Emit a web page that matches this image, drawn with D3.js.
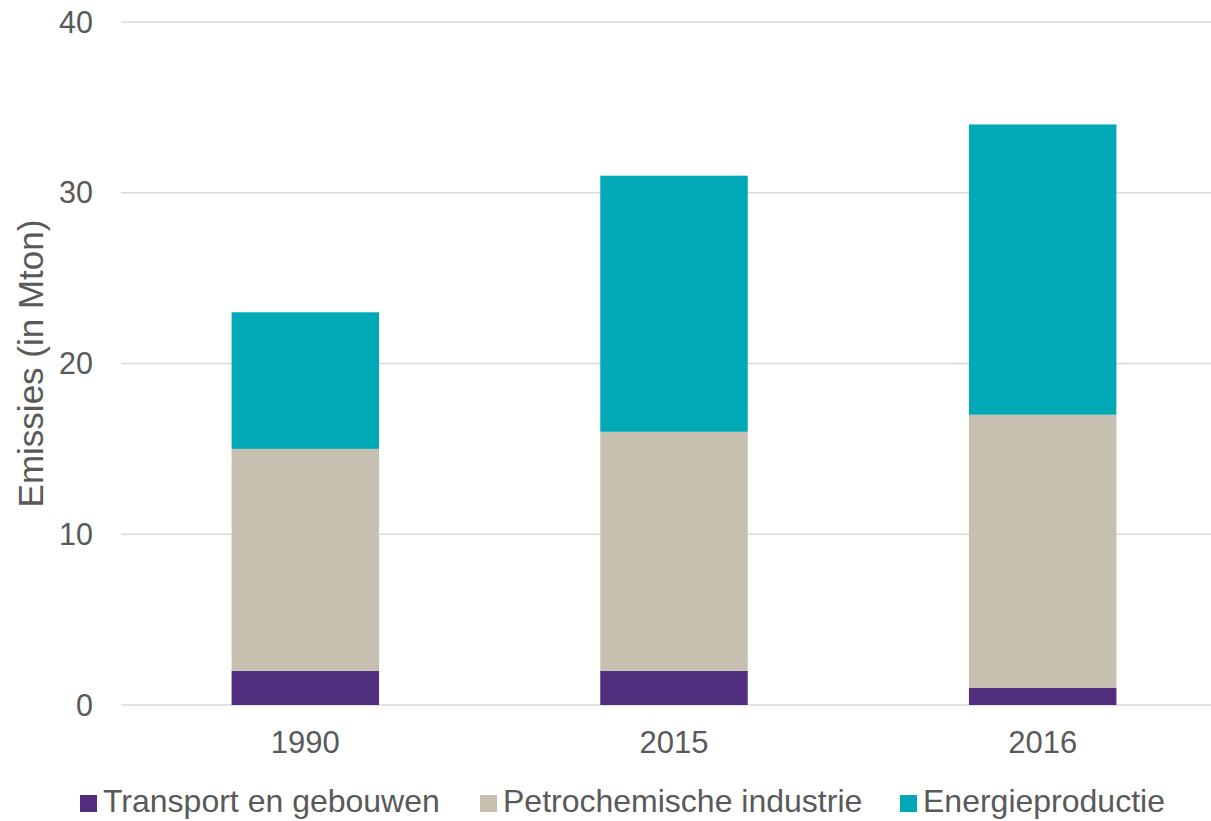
<!DOCTYPE html>
<html>
<head>
<meta charset="utf-8">
<script src="https://cdn.jsdelivr.net/npm/d3@7"></script>
<style>
  body { margin: 0; background: #fff; }
  svg { display: block; font-family: "Liberation Sans", Arial, sans-serif; }
</style>
</head>
<body>
<div id="chart"></div>
<script>
const width = 1211;
const height = 821;

const years = ["1990", "2015", "2016"];
const seriesNames = ["Transport en gebouwen", "Petrochemische industrie", "Energieproductie"];
const transport = [2, 2, 1];
const petrochemie = [13, 14, 16];
const energie = [8, 15, 17];
const yTicks = [0, 10, 20, 30, 40];
const colors = ["#512F7E", "#C7BFB0", "#00A9B5"];

const rows = years.map((year, i) => ({
  year,
  [seriesNames[0]]: transport[i],
  [seriesNames[1]]: petrochemie[i],
  [seriesNames[2]]: energie[i],
}));

const stacked = d3.stack().keys(seriesNames)(rows);

const x = d3
  .scaleBand()
  .domain(years)
  .range([121, 1227])
  .paddingInner(0.6)
  .paddingOuter(0.3);

const y = d3.scaleLinear().domain([0, 40]).range([705, 22]);

const color = d3.scaleOrdinal().domain(seriesNames).range(colors);

const svg = d3
  .select("#chart")
  .append("svg")
  .attr("width", width)
  .attr("height", height);

// gridlines
svg
  .append("g")
  .selectAll("line")
  .data(yTicks)
  .join("line")
  .attr("x1", 121)
  .attr("x2", width)
  .attr("y1", (d) => y(d))
  .attr("y2", (d) => y(d))
  .attr("stroke", "#d9d9d9")
  .attr("stroke-width", 1.5);

// y tick labels
svg
  .append("g")
  .selectAll("text")
  .data(yTicks)
  .join("text")
  .attr("x", 93)
  .attr("y", (d) => y(d))
  .attr("dy", "0.35em")
  .attr("text-anchor", "end")
  .attr("font-size", "30.5px")
  .attr("fill", "#595959")
  .text((d) => d);

// bars
svg
  .append("g")
  .selectAll("g")
  .data(stacked)
  .join("g")
  .attr("fill", (d) => color(d.key))
  .selectAll("rect")
  .data((d) => d)
  .join("rect")
  .attr("x", (d) => x(d.data.year))
  .attr("width", x.bandwidth())
  .attr("y", (d) => y(d[1]))
  .attr("height", (d) => y(d[0]) - y(d[1]));

// x axis
const xAxis = svg
  .append("g")
  .attr("transform", "translate(0,705)")
  .call(d3.axisBottom(x).tickSize(0).tickPadding(0));
xAxis.select(".domain").remove();
xAxis
  .selectAll("text")
  .attr("y", 48)
  .attr("dy", 0)
  .attr("font-size", "31px")
  .attr("font-family", "Liberation Sans, Arial, sans-serif")
  .attr("fill", "#595959");

// y axis title
svg
  .append("text")
  .attr("transform", `translate(43,${(y(0) + y(40)) / 2}) rotate(-90)`)
  .attr("text-anchor", "middle")
  .attr("font-size", "35px")
  .attr("fill", "#595959")
  .text("Emissies (in Mton)");

// legend
const legendX = [80, 480, 900];
const legend = svg
  .append("g")
  .selectAll("g")
  .data(seriesNames)
  .join("g")
  .attr("transform", (d, i) => `translate(${legendX[i]},812)`);

legend
  .append("rect")
  .attr("x", 0)
  .attr("y", -17)
  .attr("width", 17)
  .attr("height", 17)
  .attr("fill", (d) => color(d));

legend
  .append("text")
  .attr("x", 23)
  .attr("y", 0)
  .attr("font-size", "32px")
  .attr("fill", "#595959")
  .text((d) => d);
</script>
</body>
</html>
